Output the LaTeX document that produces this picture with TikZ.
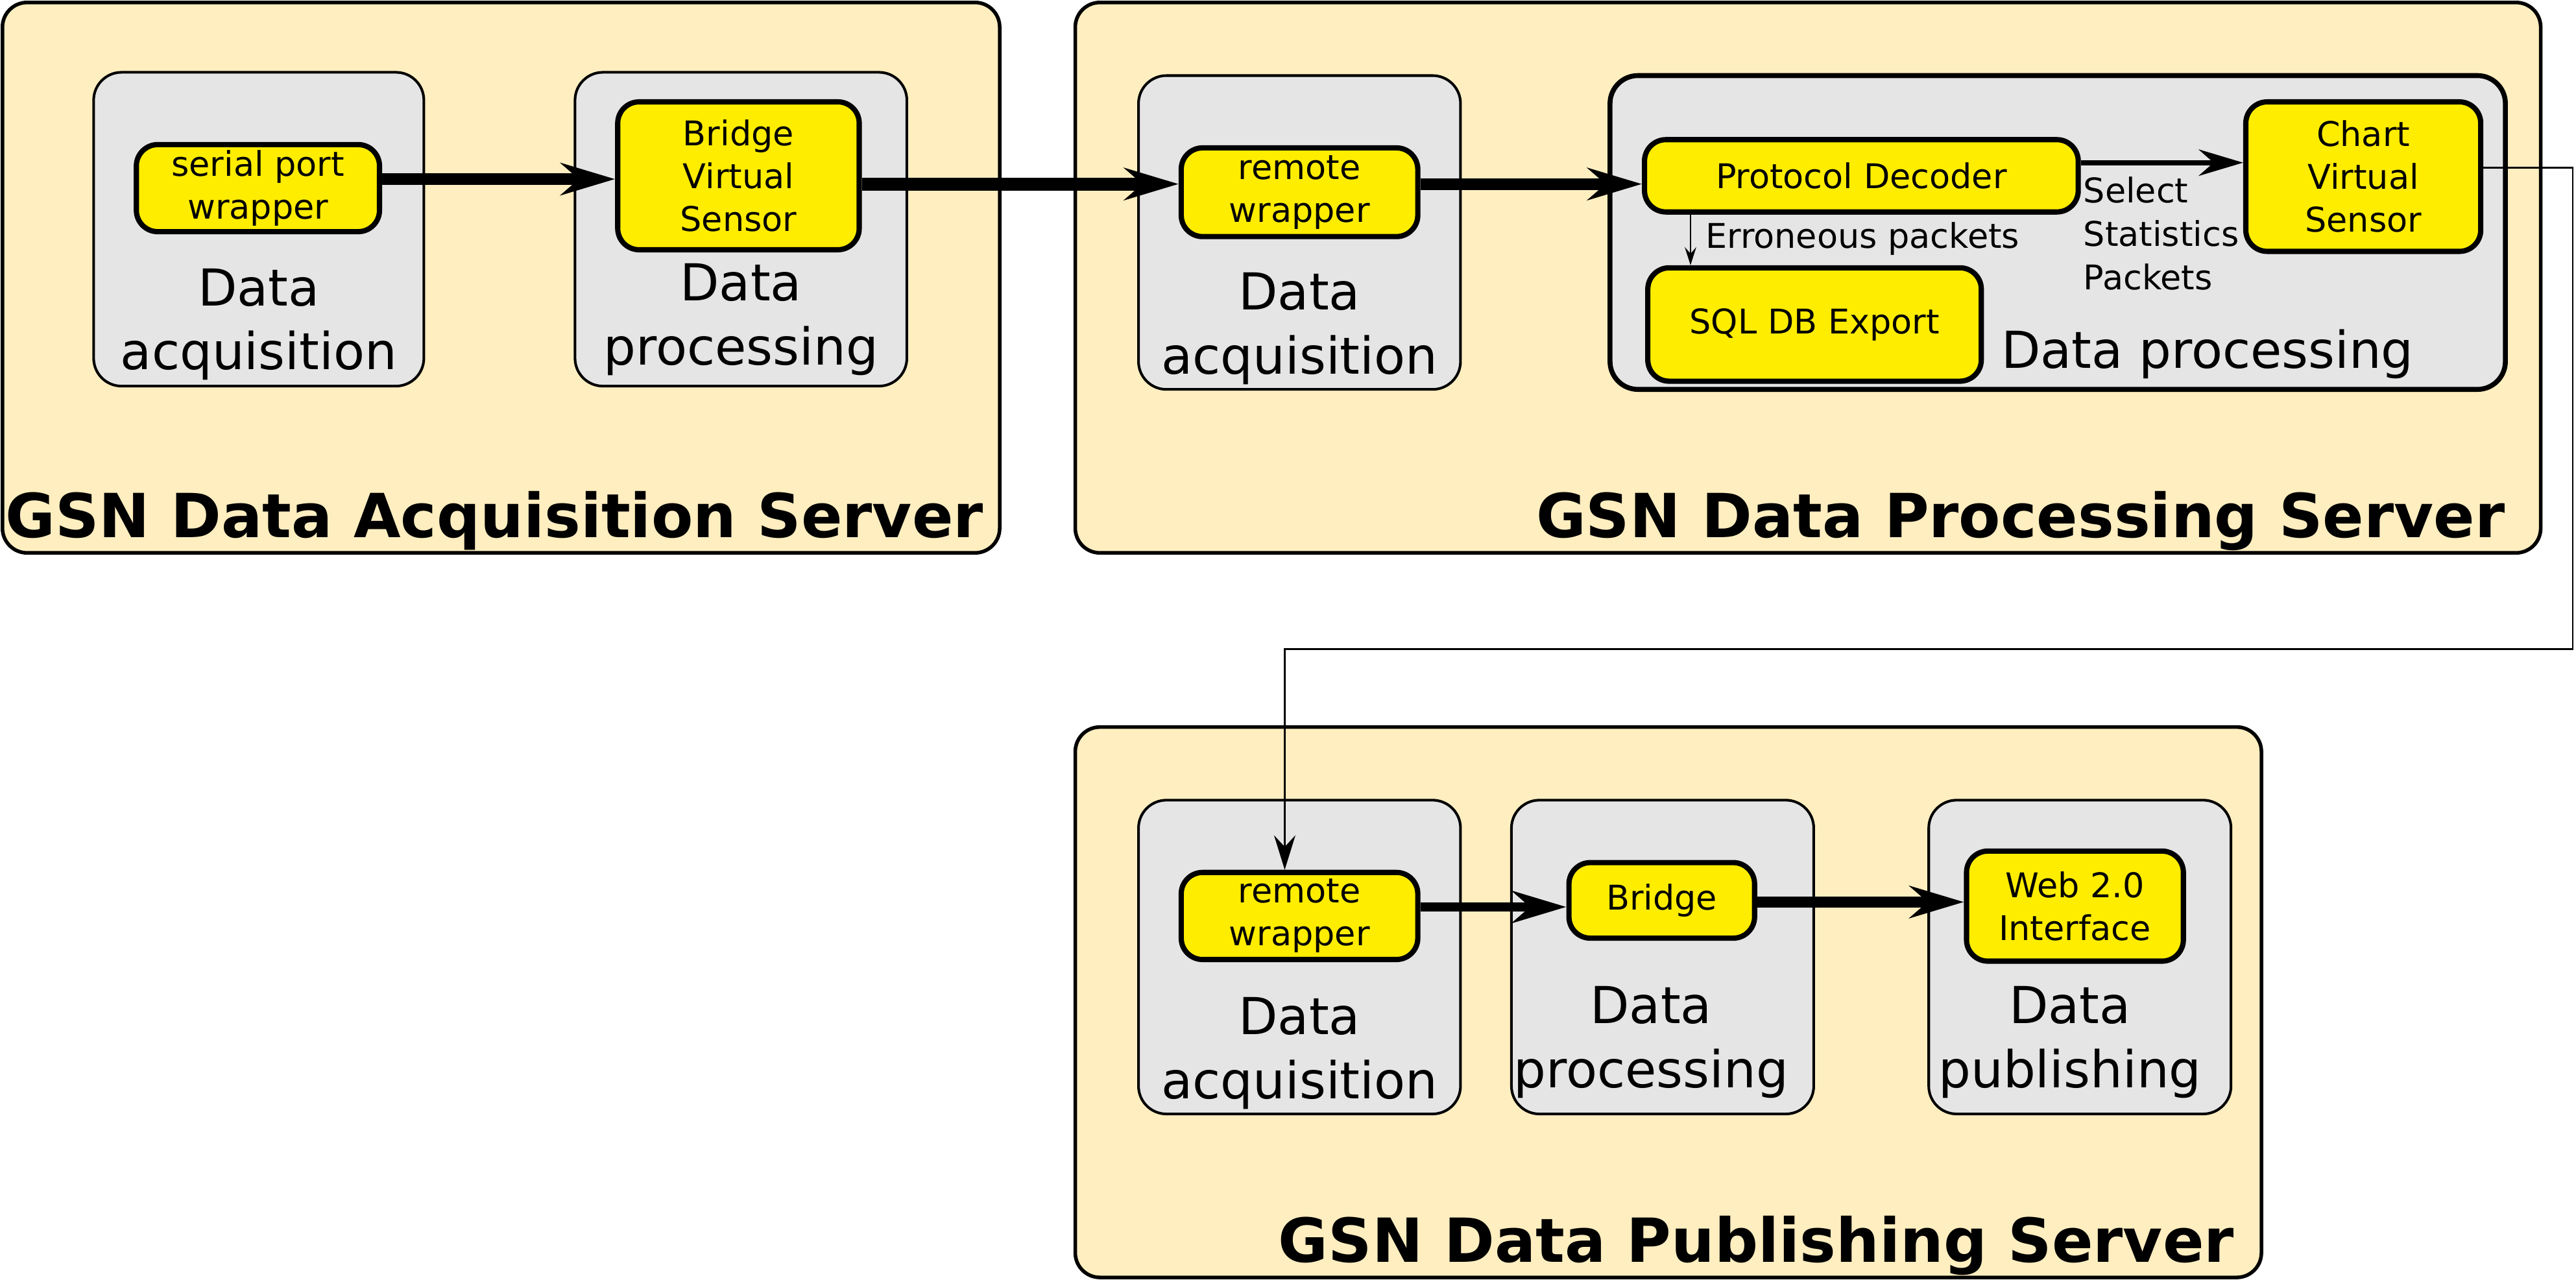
\documentclass[tikz,border=0pt]{standalone}
\usepackage{fontspec}
\setmainfont{DejaVu Sans}
\usetikzlibrary{arrows.meta}
\definecolor{serverfill}{RGB}{255,238,192}
\definecolor{stagefill}{RGB}{229,229,229}
\definecolor{blockfill}{RGB}{255,237,0}
\begin{document}
\begin{tikzpicture}[x=1pt,y=-1pt,
	server/.style={draw,line width=2.2pt,fill=serverfill,rounded corners=15pt,inner sep=0pt},
	stage/.style={draw,line width=1.6pt,fill=stagefill,rounded corners=17pt,inner sep=0pt},
	block/.style={draw,line width=3.2pt,fill=blockfill,rounded corners=13pt,inner sep=0pt,align=center,font=\fontsize{20.7}{26}\selectfont},
	stagelabel/.style={inner sep=0pt,align=center,font=\fontsize{31}{39}\selectfont},
	title/.style={inner sep=0pt,font=\fontsize{37}{44}\selectfont\bfseries},
	note/.style={inner sep=0pt,align=left,font=\fontsize{20.7}{26.5}\selectfont},
	flow/.style={-{Stealth[length=33pt,width=19.5pt,inset=11pt]}},
	smallflow/.style={-{Stealth[length=27pt,width=16pt,inset=9pt]}},
	feed/.style={line width=1pt,-{Stealth[length=11pt,width=7pt,inset=4pt]}}]
	\useasboundingbox (0,0) rectangle (1568,779);
	\foreach \n/\x/\y/\w/\h in {acqsrv/305/169/607/335,procsrv/1100.5/169/892/335,pubsrv/1015.5/610/722/335}
	\node[server,minimum width=\w pt,minimum height=\h pt] (\n) at (\x,\y) {};
	\foreach \n/\x/\y/\w in {acq1/157.5/139.5/201,proc1/451/139.5/202,acq2/791/141.5/196,acq3/791/582.5/196,proc3/1012/582.5/184,pub3/1266/582.5/184}
	\node[stage,minimum width=\w pt,minimum height=191pt] (\n) at (\x,\y) {};
	\node[stage,line width=3pt,minimum width=545pt,minimum height=191pt] (proc2) at (1252.5,141.5) {};
	
	\node[block,minimum width=148pt,minimum height=53pt] (serial) at (157,114.5) {serial port\\wrapper};
	\node[block,minimum width=147pt,minimum height=90pt] (bvs1) at (449.5,107) {Bridge\\Virtual\\Sensor};
	\node[block,minimum width=144pt,minimum height=54pt] (remote2) at (791,117) {remote\\wrapper};
	\node[block,minimum width=264pt,minimum height=44pt] (decoder) at (1133,107) {Protocol Decoder};
	\node[block,minimum width=203pt,minimum height=69pt] (sqldb) at (1104.5,197.5) {SQL DB Export};
	\node[block,minimum width=143pt,minimum height=91pt] (chart) at (1438.5,107.5) {Chart\\Virtual\\Sensor};
	\node[block,minimum width=144pt,minimum height=53pt] (remote3) at (791,557.5) {remote\\wrapper};
	\node[block,minimum width=113pt,minimum height=46pt] (bridge3) at (1011.5,548) {Bridge};
	\node[block,minimum width=132pt,minimum height=67pt] (web) at (1263,551.5) {Web 2.0\\Interface};
	
	\node[stagelabel,anchor=base] (acq1txt) at (157.5,225) {Data\\acquisition};
	\node[stagelabel,anchor=base] (proc1txt) at (451,222) {Data\\processing};
	\node[stagelabel,anchor=base] (acq2txt) at (791,227.5) {Data\\acquisition};
	\node[stagelabel,anchor=base west] (proc2txt) at (1218,224) {Data processing};
	\node[stagelabel,anchor=base] (acq3txt) at (791,668.5) {Data\\acquisition};
	\node[stagelabel,anchor=base] (proc3txt) at (1005,662) {Data\\processing};
	\node[stagelabel,anchor=base] (pub3txt) at (1260,662) {Data\\publishing};
	
	\node[title,anchor=base west] (acqtitle) at (3,327) {GSN Data Acquisition Server};
	\node[title,anchor=base east] (proctitle) at (1525,327) {GSN Data Processing Server};
	\node[title,anchor=base east] (pubtitle) at (1360,768) {GSN Data Publishing Server};
	
	\node[note,anchor=base west] (errtxt) at (1038,151) {Erroneous packets};
	\node[note,anchor=base west] (selecttxt) at (1268,176.5) {Select\\Statistics\\Packets};
	
	\draw[flow,line width=7.2pt] (serial.east |- 0,109) -- (bvs1.west |- 0,109);
	\draw[flow,line width=7.9pt] (bvs1.east |- 0,112) -- (remote2.west |- 0,112);
	\draw[flow,line width=7pt] (remote2.east |- 0,112) -- (decoder.west |- 0,112);
	\draw[smallflow,line width=3.2pt] (decoder.east |- 0,99) -- (chart.west |- 0,99);
	\draw[flow,line width=5.5pt] (remote3.east |- 0,552) -- (bridge3.west |- 0,552);
	\draw[flow,line width=7pt] (bridge3.east |- 0,549) -- (web.west |- 0,549);
	\draw[feed] (decoder.south -| 1029,0) -- (sqldb.north -| 1029,0);
	\draw[feed,-{Stealth[length=21pt,width=13pt,inset=7pt]}] (chart.east |- 0,102) -| (1566,395) -| ([xshift=-9pt]remote3.north);
\end{tikzpicture}
\end{document}
